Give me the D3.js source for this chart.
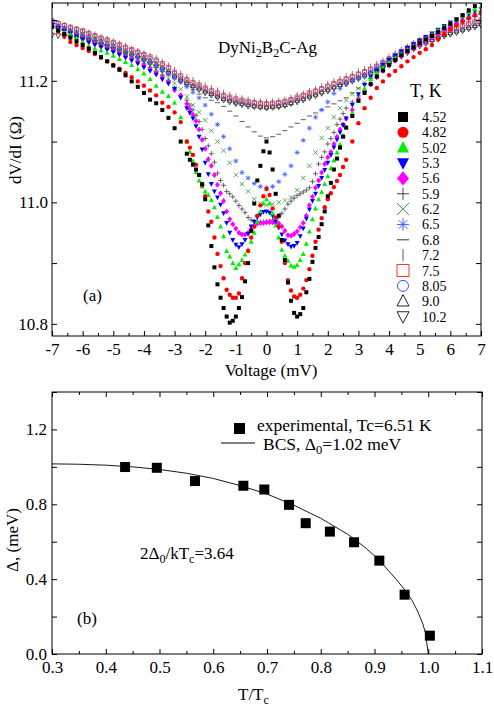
<!DOCTYPE html>
<html>
<head>
<meta charset="utf-8">
<script src="https://cdn.jsdelivr.net/npm/d3@7"></script>
<style>
body { margin: 0; background: #fff; }
text { font-family: "Liberation Serif", "Times New Roman", serif; fill: #000; }
</style>
</head>
<body>
<svg id="chart" width="494" height="710"></svg>
<script>
// ---------- panel (a): dV/dI vs voltage ----------
// fine voltage grid (densely measured curves)
var voltage = [-7,-6.8,-6.6,-6.4,-6.2,-6,-5.8,-5.6,-5.4,-5.2,-5,-4.8,-4.6,-4.4,-4.2,-4,-3.8,-3.6,-3.4,-3.2,-3,-2.8,
  -2.6,-2.5,-2.4,-2.3,-2.2,-2.1,-2,-1.9,-1.8,-1.7,
  -1.6,-1.5,-1.4,-1.3,-1.2,-1.1,-1,-0.9,-0.8,-0.7,
  -0.6,-0.5,-0.4,-0.3,-0.2,-0.1,0,0.1,0.2,0.3,
  0.4,0.5,0.6,0.7,0.8,0.9,1,1.1,1.2,1.3,
  1.4,1.5,1.6,1.7,1.8,1.9,2,2.1,2.2,2.3,
  2.4,2.5,2.6,
  2.8,3,3.2,3.4,3.6,3.8,4,4.2,4.4,4.6,4.8,5,5.2,5.4,5.6,5.8,6,6.2,6.4,6.6,6.8,7];
// coarse voltage grid (sparser curves)
var voltageCoarse = [-7,-6.8,-6.6,-6.4,-6.2,-6,-5.8,-5.6,-5.4,-5.2,
  -5,-4.8,-4.6,-4.4,-4.2,-4,-3.8,-3.6,-3.4,-3.2,
  -3,-2.8,-2.6,-2.4,-2.2,-2,-1.8,-1.6,-1.4,-1.2,
  -1,-0.8,-0.6,-0.4,-0.2,0,0.2,0.4,0.6,0.8,
  1,1.2,1.4,1.6,1.8,2,2.2,2.4,2.6,2.8,
  3,3.2,3.4,3.6,3.8,4,4.2,4.4,4.6,4.8,
  5,5.2,5.4,5.6,5.8,6,6.2,6.4,6.6,6.8,7];

var temps = ["4.52","4.82","5.02","5.3","5.6","5.9","6.2","6.5","6.8","7.2","7.5","8.05","9.0","10.2"];

// fine grid series
var dvdi452 = [11.289,11.283,11.277,11.271,11.265,11.259,11.253,11.246,11.239,11.232,11.225,11.218,11.209,11.199,11.190,11.180,11.169,11.163,11.152,11.139,11.122,11.100,
  11.080,11.070,11.062,11.054,11.045,11.030,11.005,10.962,10.928,10.893,
  10.865,10.843,10.826,10.812,10.802,10.805,10.812,10.826,10.844,10.870,
  10.900,10.953,10.998,11.036,11.060,11.084,11.100,11.082,11.054,11.014,
  10.978,10.938,10.905,10.868,10.838,10.818,10.812,10.816,10.826,10.852,
  10.874,10.902,10.925,10.943,10.964,10.985,11.010,11.032,11.054,11.072,
  11.090,11.108,11.123,
  11.142,11.167,11.180,11.195,11.207,11.217,11.226,11.234,11.242,11.249,11.255,11.262,11.268,11.274,11.280,11.287,11.294,11.301,11.308,11.316,11.323,11.330];
var dvdi482 = [11.288,11.281,11.273,11.264,11.259,11.254,11.249,11.244,11.238,11.232,11.226,11.220,11.213,11.206,11.199,11.192,11.184,11.176,11.164,11.157,11.148,11.132,
  11.100,11.090,11.078,11.062,11.045,11.028,11.010,10.985,10.968,10.942,
  10.915,10.895,10.875,10.856,10.848,10.843,10.843,10.850,10.875,10.900,
  10.920,10.942,10.960,10.978,10.995,11.010,11.022,11.012,10.990,10.975,
  10.960,10.935,10.900,10.872,10.855,10.845,10.843,10.848,10.858,10.872,
  10.890,10.912,10.935,10.955,10.974,10.992,11.005,11.015,11.025,11.035,
  11.045,11.058,11.070,
  11.100,11.130,11.155,11.172,11.188,11.199,11.209,11.216,11.224,11.232,11.239,11.246,11.252,11.259,11.268,11.277,11.285,11.291,11.297,11.303,11.308,11.313];
var dvdi502 = [11.290,11.285,11.280,11.276,11.270,11.264,11.257,11.253,11.250,11.246,11.241,11.236,11.231,11.226,11.219,11.212,11.203,11.192,11.182,11.175,11.164,11.140,
  11.100,11.083,11.068,11.050,11.036,11.026,11.018,11.012,11.004,10.992,
  10.976,10.960,10.944,10.920,10.911,10.900,10.892,10.898,10.905,10.914,
  10.922,10.935,10.950,10.968,10.985,10.998,11.005,10.998,10.982,10.962,
  10.942,10.922,10.912,10.904,10.896,10.894,10.897,10.905,10.915,10.932,
  10.952,10.972,10.990,11.005,11.017,11.030,11.043,11.056,11.069,11.082,
  11.095,11.110,11.123,
  11.147,11.168,11.187,11.203,11.213,11.222,11.230,11.237,11.244,11.251,11.257,11.263,11.270,11.276,11.283,11.289,11.295,11.301,11.307,11.313,11.318,11.322];
var dvdi53 = [11.292,11.287,11.282,11.278,11.273,11.268,11.263,11.259,11.255,11.251,11.247,11.243,11.238,11.233,11.228,11.222,11.216,11.210,11.202,11.195,11.187,11.172,
  11.155,11.147,11.138,11.125,11.108,11.087,11.065,11.046,11.030,11.018,
  11.008,10.996,10.982,10.966,10.950,10.938,10.930,10.926,10.931,10.938,
  10.948,10.960,10.968,10.975,10.980,10.984,10.985,10.983,10.978,10.968,
  10.958,10.947,10.937,10.931,10.927,10.928,10.933,10.944,10.957,10.973,
  10.988,11.002,11.014,11.027,11.040,11.053,11.065,11.078,11.090,11.103,
  11.115,11.127,11.138,
  11.160,11.178,11.193,11.206,11.217,11.226,11.234,11.241,11.248,11.254,11.260,11.266,11.272,11.278,11.284,11.290,11.296,11.301,11.306,11.310,11.314,11.318];
var dvdi56 = [11.293,11.288,11.284,11.279,11.274,11.270,11.265,11.261,11.257,11.253,11.249,11.245,11.240,11.236,11.231,11.225,11.219,11.213,11.206,11.198,11.185,11.176,
  11.162,11.153,11.144,11.134,11.120,11.103,11.088,11.071,11.060,11.045,
  11.029,11.015,11.002,10.985,10.972,10.964,10.957,10.950,10.947,10.947,
  10.950,10.956,10.961,10.965,10.966,10.966,10.967,10.967,10.967,10.966,
  10.965,10.960,10.953,10.946,10.945,10.948,10.952,10.959,10.966,10.978,
  10.995,11.009,11.024,11.036,11.049,11.063,11.074,11.083,11.096,11.108,
  11.120,11.128,11.138,
  11.152,11.170,11.183,11.194,11.206,11.216,11.225,11.233,11.240,11.247,11.253,11.259,11.265,11.271,11.277,11.283,11.289,11.294,11.299,11.304,11.308,11.312];
var dvdi59 = [11.294,11.289,11.285,11.281,11.276,11.272,11.267,11.263,11.259,11.255,11.251,11.247,11.243,11.238,11.233,11.228,11.222,11.216,11.209,11.200,11.188,11.176,
  11.168,11.160,11.152,11.143,11.133,11.120,11.105,11.093,11.080,11.066,
  11.048,11.036,11.028,11.018,11.014,11.009,11.002,10.995,10.989,10.983,
  10.975,10.971,10.969,10.968,10.968,10.968,10.968,10.969,10.971,10.973,
  10.976,10.982,10.989,10.997,11.002,11.007,11.011,11.014,11.017,11.020,
  11.024,11.034,11.047,11.063,11.074,11.083,11.096,11.105,11.115,11.128,
  11.137,11.146,11.155,
  11.165,11.175,11.183,11.194,11.206,11.217,11.226,11.234,11.241,11.248,11.254,11.260,11.266,11.272,11.278,11.283,11.288,11.293,11.298,11.302,11.306,11.310];

// coarse grid series
var dvdi62 = [11.295,11.290,11.286,11.282,11.278,11.273,11.269,11.265,11.261,11.257,
  11.253,11.249,11.245,11.240,11.235,11.230,11.225,11.219,11.212,11.204,
  11.196,11.186,11.174,11.160,11.148,11.135,11.118,11.100,11.085,11.065,
  11.045,11.030,11.018,11.005,10.998,10.995,10.997,11.000,11.003,11.008,
  11.020,11.040,11.060,11.082,11.106,11.122,11.140,11.155,11.168,11.178,
  11.187,11.197,11.207,11.217,11.226,11.234,11.241,11.248,11.254,11.260,
  11.266,11.272,11.277,11.282,11.287,11.292,11.297,11.301,11.305,11.309,11.312];
var dvdi65 = [11.295,11.291,11.287,11.283,11.279,11.275,11.271,11.267,11.263,11.259,
  11.255,11.251,11.247,11.243,11.239,11.234,11.229,11.224,11.218,11.211,
  11.205,11.198,11.190,11.181,11.172,11.160,11.145,11.128,11.108,11.088,
  11.068,11.049,11.040,11.031,11.026,11.024,11.026,11.034,11.046,11.060,
  11.082,11.102,11.122,11.140,11.152,11.165,11.179,11.187,11.194,11.200,
  11.204,11.208,11.215,11.222,11.229,11.236,11.242,11.248,11.254,11.260,
  11.266,11.271,11.276,11.281,11.286,11.291,11.296,11.300,11.304,11.308,11.311];
var dvdi68 = [11.294,11.289,11.285,11.281,11.277,11.273,11.269,11.265,11.261,11.257,
  11.253,11.249,11.245,11.241,11.237,11.232,11.227,11.222,11.216,11.210,
  11.204,11.198,11.191,11.185,11.178,11.172,11.168,11.164,11.158,11.150,
  11.142,11.133,11.124,11.116,11.109,11.106,11.108,11.112,11.118,11.124,
  11.130,11.136,11.142,11.147,11.152,11.157,11.162,11.167,11.172,11.180,
  11.188,11.196,11.204,11.214,11.224,11.232,11.240,11.247,11.254,11.260,
  11.266,11.271,11.276,11.281,11.286,11.291,11.295,11.299,11.303,11.306,11.309];
var dvdi72 = [11.298,11.295,11.292,11.289,11.286,11.283,11.280,11.277,11.273,11.270,
  11.266,11.262,11.258,11.254,11.250,11.246,11.242,11.238,11.232,11.226,
  11.219,11.213,11.207,11.202,11.197,11.193,11.189,11.185,11.181,11.178,
  11.175,11.172,11.170,11.168,11.167,11.166,11.167,11.168,11.170,11.173,
  11.177,11.180,11.184,11.188,11.192,11.196,11.200,11.204,11.208,11.212,
  11.216,11.220,11.224,11.229,11.234,11.240,11.246,11.252,11.257,11.263,
  11.268,11.272,11.276,11.280,11.284,11.287,11.290,11.293,11.296,11.299,11.302];
var dvdi75 = [11.297,11.294,11.291,11.288,11.285,11.282,11.278,11.274,11.270,11.267,
  11.263,11.259,11.255,11.251,11.247,11.243,11.239,11.234,11.228,11.222,
  11.214,11.208,11.202,11.197,11.193,11.188,11.184,11.180,11.176,11.173,
  11.170,11.168,11.166,11.164,11.163,11.162,11.163,11.164,11.166,11.169,
  11.173,11.176,11.180,11.183,11.187,11.191,11.195,11.199,11.203,11.207,
  11.211,11.215,11.219,11.224,11.230,11.236,11.242,11.248,11.254,11.260,
  11.266,11.270,11.274,11.278,11.282,11.285,11.288,11.291,11.294,11.297,11.300];
var dvdi805 = [11.299,11.295,11.291,11.287,11.284,11.281,11.277,11.273,11.269,11.266,
  11.262,11.258,11.254,11.250,11.246,11.242,11.237,11.232,11.226,11.220,
  11.212,11.206,11.200,11.195,11.191,11.186,11.182,11.178,11.174,11.171,
  11.168,11.166,11.164,11.163,11.162,11.161,11.162,11.163,11.165,11.168,
  11.171,11.175,11.178,11.182,11.186,11.190,11.194,11.198,11.202,11.206,
  11.210,11.214,11.218,11.223,11.229,11.235,11.241,11.247,11.253,11.258,
  11.264,11.268,11.272,11.276,11.280,11.283,11.286,11.289,11.292,11.295,11.298];
var dvdi90 = [11.292,11.289,11.286,11.283,11.280,11.277,11.273,11.269,11.265,11.262,
  11.258,11.254,11.250,11.246,11.242,11.238,11.233,11.228,11.222,11.216,
  11.209,11.203,11.197,11.192,11.188,11.183,11.179,11.175,11.171,11.168,
  11.165,11.163,11.161,11.159,11.158,11.157,11.158,11.159,11.161,11.164,
  11.168,11.171,11.175,11.178,11.182,11.186,11.190,11.194,11.198,11.202,
  11.206,11.210,11.214,11.219,11.225,11.231,11.237,11.243,11.249,11.255,
  11.260,11.264,11.268,11.272,11.276,11.279,11.282,11.285,11.288,11.291,11.294];
var dvdi102 = [11.275,11.274,11.273,11.272,11.270,11.268,11.265,11.262,11.259,11.256,
  11.252,11.249,11.245,11.241,11.237,11.233,11.228,11.223,11.218,11.212,
  11.205,11.199,11.194,11.189,11.185,11.180,11.176,11.172,11.168,11.165,
  11.162,11.160,11.158,11.157,11.156,11.155,11.156,11.157,11.159,11.162,
  11.165,11.168,11.172,11.175,11.179,11.183,11.187,11.191,11.195,11.199,
  11.203,11.207,11.211,11.216,11.222,11.228,11.234,11.240,11.246,11.252,
  11.257,11.261,11.265,11.269,11.273,11.276,11.279,11.282,11.285,11.288,11.291];

var voltTicks = [-7,-6,-5,-4,-3,-2,-1,0,1,2,3,4,5,6,7];
var resTicks = [10.8,10.9,11.0,11.1,11.2,11.3];
var resLabels = [10.8,11.0,11.2];

// ---------- panel (b): gap vs reduced temperature ----------
var expT = [0.436,0.495,0.566,0.656,0.695,0.741,0.772,0.817,0.862,0.909,0.956,1.003];
var expGap = [0.999,0.995,0.924,0.899,0.879,0.797,0.699,0.654,0.597,0.499,0.317,0.098];
var bcsT = [0.30,0.35,0.40,0.45,0.50,0.55,0.60,0.65,0.70,0.75,0.80,0.85,0.88,0.90,0.92,0.94,0.96,0.97,0.98,0.99,0.995,1.00];
var bcsGap = [1.016,1.014,1.009,1.000,0.986,0.966,0.938,0.900,0.855,0.795,0.725,0.640,0.575,0.525,0.465,0.400,0.330,0.285,0.230,0.160,0.110,0.000];
var tTicks = [0.3,0.4,0.5,0.6,0.7,0.8,0.9,1.0,1.1];
var gapTicks = [0.0,0.2,0.4,0.6,0.8,1.0,1.2,1.4];
var gapLabels = [0.0,0.4,0.8,1.2];

var svg = d3.select("#chart");
var serif = '"Liberation Serif", "Times New Roman", serif';

function markerPath(shape, s) {
  var h = s / 2;
  switch (shape) {
    case "square": return `M${-h},${-h}h${s}v${s}h${-s}Z`;
    case "circle": return `M${h},0A${h},${h} 0 1,1 ${-h},0A${h},${h} 0 1,1 ${h},0Z`;
    case "triangle": return `M0,${-h * 1.1}L${h},${h * 0.8}L${-h},${h * 0.8}Z`;
    case "triangleDown": return `M0,${h * 1.1}L${h},${-h * 0.8}L${-h},${-h * 0.8}Z`;
    case "diamond": return `M0,${-h * 1.2}L${h},0L0,${h * 1.2}L${-h},0Z`;
    case "plus": return `M${-h},0H${h}M0,${-h}V${h}`;
    case "x": return `M${-h},${-h}L${h},${h}M${-h},${h}L${h},${-h}`;
    case "star":
      var k = h * 0.72;
      return `M${-h},0H${h}M0,${-h}V${h}M${-k},${-k}L${k},${k}M${-k},${k}L${k},${-k}`;
    case "dash": return `M${-h},0H${h}`;
    case "bar": return `M0,${-h}V${h}`;
  }
}

var series = [
  {label: temps[0], x: voltage, values: dvdi452, shape: "square", color: "#000000", fill: true, size: 4},
  {label: temps[1], x: voltage, values: dvdi482, shape: "circle", color: "#ff0000", fill: true, size: 4.4},
  {label: temps[2], x: voltage, values: dvdi502, shape: "triangle", color: "#00ee00", fill: true, size: 5},
  {label: temps[3], x: voltage, values: dvdi53, shape: "triangleDown", color: "#0000ff", fill: true, size: 5},
  {label: temps[4], x: voltage, values: dvdi56, shape: "diamond", color: "#ff00ff", fill: true, size: 5},
  {label: temps[5], x: voltage, values: dvdi59, shape: "plus", color: "#444444", fill: false, size: 5},
  {label: temps[6], x: voltageCoarse, values: dvdi62, shape: "x", color: "#2f9a2f", fill: false, size: 4.5},
  {label: temps[7], x: voltageCoarse, values: dvdi65, shape: "star", color: "#3f5fff", fill: false, size: 5},
  {label: temps[8], x: voltageCoarse, values: dvdi68, shape: "dash", color: "#333333", fill: false, size: 5},
  {label: temps[9], x: voltageCoarse, values: dvdi72, shape: "bar", color: "#555555", fill: false, size: 5},
  {label: temps[10], x: voltageCoarse, values: dvdi75, shape: "square", color: "#ff3030", fill: false, size: 4.4},
  {label: temps[11], x: voltageCoarse, values: dvdi805, shape: "circle", color: "#3050ff", fill: false, size: 4.6},
  {label: temps[12], x: voltageCoarse, values: dvdi90, shape: "triangle", color: "#222222", fill: false, size: 5},
  {label: temps[13], x: voltageCoarse, values: dvdi102, shape: "triangleDown", color: "#222222", fill: false, size: 5}
];

// ---------- panel (a) ----------
var aL = 52, aR = 481, aT = 3, aB = 336;
var xV = d3.scaleLinear().domain([-7, 7]).range([aL, aR]);
var yR = d3.scaleLinear().domain([10.78, 11.328]).range([aB, aT]);

svg.append("clipPath").attr("id", "clipA")
  .append("rect").attr("x", aL).attr("y", aT).attr("width", aR - aL).attr("height", aB - aT);

var marks = svg.append("g").attr("clip-path", "url(#clipA)");
series.slice().reverse().forEach(function(s) {
  marks.append("g").selectAll("path")
    .data(s.x.map(function(v, i) { return [v, s.values[i]]; }).filter(d => d[1] != null))
    .join("path")
    .attr("transform", d => `translate(${xV(d[0])},${yR(d[1])})`)
    .attr("d", markerPath(s.shape, s.size))
    .attr("fill", s.fill ? s.color : "none")
    .attr("stroke", s.fill ? "none" : s.color)
    .attr("stroke-width", 0.8);
});

function styleAxis(g) {
  g.select(".domain").remove();
  g.attr("font-family", serif).attr("font-size", 17);
  g.selectAll("line").attr("stroke", "#000");
}

// x axes of (a)
svg.append("g").attr("transform", `translate(0,${aB})`)
  .call(d3.axisBottom(xV).tickValues(voltTicks).tickSize(-5).tickPadding(7).tickFormat(d => String(d)))
  .call(styleAxis);
svg.append("g").attr("transform", `translate(0,${aB})`)
  .call(d3.axisBottom(xV).tickValues(voltTicks.slice(1).map(d => d - 0.5)).tickSize(-3).tickFormat(""))
  .call(styleAxis);
svg.append("g").attr("transform", `translate(0,${aT})`)
  .call(d3.axisTop(xV).tickValues(voltTicks).tickSize(-5).tickFormat(""))
  .call(styleAxis);
svg.append("g").attr("transform", `translate(0,${aT})`)
  .call(d3.axisTop(xV).tickValues(voltTicks.slice(1).map(d => d - 0.5)).tickSize(-3).tickFormat(""))
  .call(styleAxis);
// y axes of (a)
svg.append("g").attr("transform", `translate(${aL},0)`)
  .call(d3.axisLeft(yR).tickValues(resTicks).tickSize(-5).tickPadding(4)
    .tickFormat(d => resLabels.some(v => Math.abs(v - d) < 1e-6) ? d3.format(".1f")(d) : ""))
  .call(styleAxis);
svg.append("g").attr("transform", `translate(${aR},0)`)
  .call(d3.axisRight(yR).tickValues(resTicks).tickSize(-5).tickFormat(""))
  .call(styleAxis);

svg.append("rect").attr("x", aL).attr("y", aT).attr("width", aR - aL).attr("height", aB - aT)
  .attr("fill", "none").attr("stroke", "#000").attr("stroke-width", 1);

svg.append("text").attr("x", 271).attr("y", 376).attr("text-anchor", "middle")
  .attr("font-size", 17).text("Voltage (mV)");
svg.append("text").attr("transform", "translate(21,150) rotate(-90)").attr("text-anchor", "middle")
  .attr("font-size", 17).text("dV/dI (\u03A9)");

var title = svg.append("text").attr("x", 218).attr("y", 53).attr("font-size", 17);
title.append("tspan").text("DyNi");
title.append("tspan").attr("dy", 4).attr("font-size", 12).text("2");
title.append("tspan").attr("dy", -4).text("B");
title.append("tspan").attr("dy", 4).attr("font-size", 12).text("2");
title.append("tspan").attr("dy", -4).text("C-Ag");

svg.append("text").attr("x", 83).attr("y", 301).attr("font-size", 17).text("(a)");

// legend of (a)
svg.append("text").attr("x", 410).attr("y", 97).attr("font-size", 18).text("T, K");
var leg = svg.append("g");
series.forEach(function(s, i) {
  var cy = 117 + i * 15.35;
  var big = s.shape === "square" && s.fill ? 10 : (s.shape === "circle" ? 11 : 12);
  leg.append("path")
    .attr("transform", `translate(403,${cy})`)
    .attr("d", markerPath(s.shape, big))
    .attr("fill", s.fill ? s.color : "none")
    .attr("stroke", s.fill ? "none" : s.color)
    .attr("stroke-width", 1);
  leg.append("text").attr("x", 422).attr("y", cy + 5).attr("font-size", 14).text(s.label);
});

// ---------- panel (b) ----------
var bL = 52, bR = 482, bT = 392, bB = 654;
var xT = d3.scaleLinear().domain([0.3, 1.1]).range([bL, bR]);
var yG = d3.scaleLinear().domain([0, 1.4]).range([bB, bT]);

svg.append("clipPath").attr("id", "clipB")
  .append("rect").attr("x", bL).attr("y", bT).attr("width", bR - bL).attr("height", bB - bT);

var minorT = tTicks.slice(1).map(d => d - 0.05);

svg.append("g").attr("transform", `translate(0,${bB})`)
  .call(d3.axisBottom(xT).tickValues(tTicks).tickSize(-5).tickPadding(7).tickFormat(d3.format(".1f")))
  .call(styleAxis);
svg.append("g").attr("transform", `translate(0,${bB})`)
  .call(d3.axisBottom(xT).tickValues(minorT).tickSize(-3).tickFormat(""))
  .call(styleAxis);
svg.append("g").attr("transform", `translate(0,${bT})`)
  .call(d3.axisTop(xT).tickValues(tTicks).tickSize(-5).tickFormat(""))
  .call(styleAxis);
svg.append("g").attr("transform", `translate(0,${bT})`)
  .call(d3.axisTop(xT).tickValues(minorT).tickSize(-3).tickFormat(""))
  .call(styleAxis);
svg.append("g").attr("transform", `translate(${bL},0)`)
  .call(d3.axisLeft(yG).tickValues(gapTicks).tickSize(-5).tickPadding(5)
    .tickFormat(d => gapLabels.some(v => Math.abs(v - d) < 1e-6) ? d3.format(".1f")(d) : ""))
  .call(styleAxis);
svg.append("g").attr("transform", `translate(${bR},0)`)
  .call(d3.axisRight(yG).tickValues(gapTicks).tickSize(-5).tickFormat(""))
  .call(styleAxis);

var bcsLine = d3.line().x((d, i) => xT(bcsT[i])).y(d => yG(d));
svg.append("path").attr("clip-path", "url(#clipB)")
  .datum(bcsGap)
  .attr("d", bcsLine)
  .attr("fill", "none").attr("stroke", "#000").attr("stroke-width", 0.9);

svg.append("g").selectAll("rect")
  .data(expT)
  .join("rect")
  .attr("x", d => xT(d) - 5)
  .attr("y", (d, i) => yG(expGap[i]) - 5)
  .attr("width", 10).attr("height", 10)
  .attr("fill", "#000");

svg.append("rect").attr("x", bL).attr("y", bT).attr("width", bR - bL).attr("height", bB - bT)
  .attr("fill", "none").attr("stroke", "#000").attr("stroke-width", 1);

// legend of (b)
svg.append("rect").attr("x", 234).attr("y", 423).attr("width", 11).attr("height", 11).attr("fill", "#000");
svg.append("text").attr("x", 257).attr("y", 431).attr("font-size", 17.5).text("experimental, Tc=6.51 K");
svg.append("line").attr("x1", 221).attr("x2", 255).attr("y1", 443).attr("y2", 443)
  .attr("stroke", "#000").attr("stroke-width", 1);
var bcsText = svg.append("text").attr("x", 263).attr("y", 450).attr("font-size", 17.5);
bcsText.append("tspan").text("BCS, \u0394");
bcsText.append("tspan").attr("dy", 4).attr("font-size", 12.5).text("0");
bcsText.append("tspan").attr("dy", -4).text("=1.02 meV");

var ratio = svg.append("text").attr("x", 140).attr("y", 559).attr("font-size", 17);
ratio.append("tspan").text("2\u0394");
ratio.append("tspan").attr("dy", 4).attr("font-size", 12).text("0");
ratio.append("tspan").attr("dy", -4).text("/kT");
ratio.append("tspan").attr("dy", 4).attr("font-size", 12).text("c");
ratio.append("tspan").attr("dy", -4).text("=3.64");

svg.append("text").attr("x", 77).attr("y", 624).attr("font-size", 17).text("(b)");

var tLabel = svg.append("text").attr("x", 238).attr("y", 700).attr("font-size", 17);
tLabel.append("tspan").text("T/T");
tLabel.append("tspan").attr("dy", 4).attr("font-size", 12).text("c");

svg.append("text").attr("transform", "translate(18,540) rotate(-90)").attr("text-anchor", "middle")
  .attr("font-size", 17).text("\u0394, (meV)");
</script>
</body>
</html>
